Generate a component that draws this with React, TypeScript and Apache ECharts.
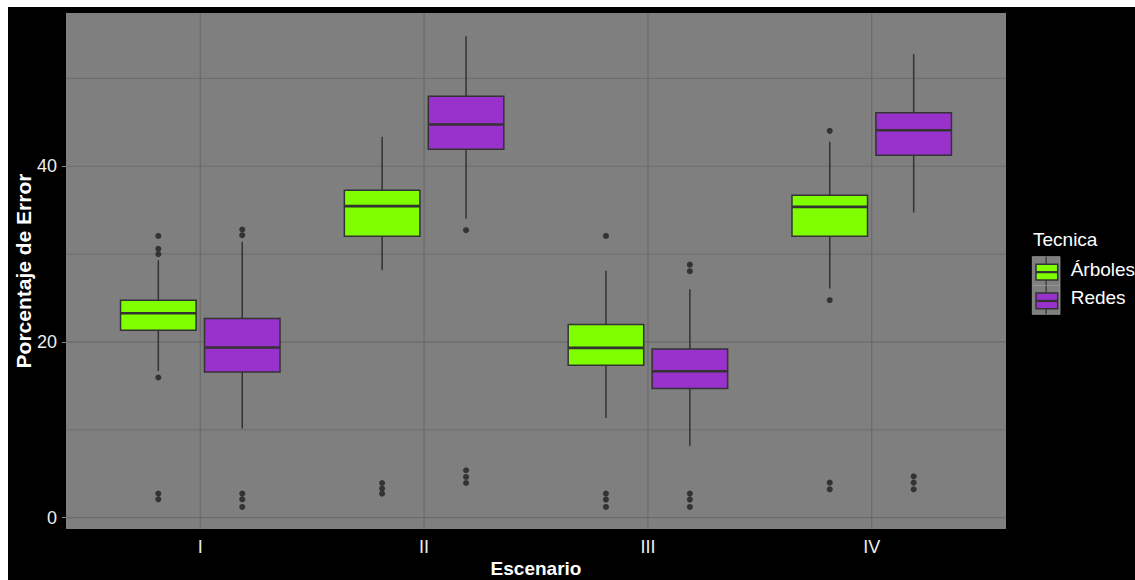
import React, { useEffect, useRef } from "react";
import * as echarts from "echarts";

// ---- data ----
const scenarios = ["I", "II", "III", "IV"];
const techniques = ["Árboles", "Redes"];
// [lower whisker, Q1, median, Q3, upper whisker]
const arbolesStats = [
  [16.7, 21.33, 23.27, 24.75, 29.3],
  [28.17, 32.04, 35.46, 37.28, 43.35],
  [11.34, 17.35, 19.32, 21.98, 28.09],
  [26.08, 32.04, 35.38, 36.7, 42.8],
];
const redesStats = [
  [10.14, 16.58, 19.36, 22.66, 31.4],
  [34.05, 41.95, 44.76, 47.98, 54.8],
  [8.12, 14.69, 16.66, 19.2, 26.0],
  [34.74, 41.26, 44.1, 46.08, 52.77],
];
const arbolesOutliers = [
  [32.07, 30.6, 29.99, 15.95, 2.73, 2.08],
  [3.94, 3.3, 2.73],
  [32.07, 2.73, 2.05, 1.21],
  [44.03, 24.75, 3.98, 3.22],
];
const redesOutliers = [
  [32.8, 32.15, 2.73, 2.08, 1.21],
  [32.72, 5.39, 4.63, 3.94],
  [28.8, 28.05, 2.73, 2.05, 1.21],
  [4.7, 3.98, 3.22],
];
const yTicks = [0, 20, 40];
const yMinor = [10, 30, 50];
const colors = ["#7FFF00", "#9932CC"];

const FONT = "'Liberation Sans', Arial, sans-serif";
const BOX_W = 0.3375;
const DODGE = 0.1875;
const EDGE = "#333333";
const GRID_COLOR = "#6B6B6B";

function boxSeries(name: string, stats: number[][], color: string, offset: number) {
  return {
    type: "custom",
    name,
    z: 5,
    silent: true,
    data: stats.map((s, i) => [i + 1 + offset, ...s]),
    encode: { x: 0, y: [1, 2, 3, 4, 5] },
    renderItem: (params: any, api: any) => {
      const x = api.value(0);
      const lo = api.coord([x, api.value(1)]);
      const q1 = api.coord([x, api.value(2)]);
      const med = api.coord([x, api.value(3)]);
      const q3 = api.coord([x, api.value(4)]);
      const hi = api.coord([x, api.value(5)]);
      const half = api.size([BOX_W, 0])[0] / 2;
      return {
        type: "group",
        children: [
          { type: "line", shape: { x1: lo[0], y1: lo[1], x2: q1[0], y2: q1[1] }, style: { stroke: EDGE, lineWidth: 1.5 } },
          { type: "line", shape: { x1: q3[0], y1: q3[1], x2: hi[0], y2: hi[1] }, style: { stroke: EDGE, lineWidth: 1.5 } },
          {
            type: "rect",
            shape: { x: q3[0] - half, y: q3[1], width: 2 * half, height: q1[1] - q3[1] },
            style: { fill: color, stroke: EDGE, lineWidth: 1.5 },
          },
          {
            type: "line",
            shape: { x1: med[0] - half, y1: med[1], x2: med[0] + half, y2: med[1] },
            style: { stroke: EDGE, lineWidth: 2.6 },
          },
        ],
      };
    },
  };
}

function outlierSeries(name: string, outs: number[][], offset: number) {
  return {
    type: "scatter",
    name: name + " outliers",
    z: 6,
    silent: true,
    symbol: "circle",
    symbolSize: 6,
    itemStyle: { color: EDGE, opacity: 1 },
    data: outs.flatMap((arr, i) => arr.map((v) => [i + 1 + offset, v])),
  };
}

export default function App() {
  const ref = useRef<HTMLDivElement>(null);
  useEffect(() => {
    if (!ref.current) return;
    const chart = echarts.init(ref.current, null, { renderer: "svg" });

    const hGrid = [
      ...yTicks.map((v) => [1, v, 1]),
      ...yMinor.map((v) => [1, v, 0]),
    ];
    const vGrid = scenarios.map((_, i) => [i + 1, 0]);

    // legend (key boxes) drawn with graphic elements
    const keyX = 1024.3, keyY = 249.7, keyW = 27.7, keyH = 28.8;
    const legendEls: any[] = [
      {
        type: "text",
        left: 1025,
        top: 223,
        style: { text: "Tecnica", fill: "#ffffff", font: `19px ${FONT}` },
      },
    ];
    techniques.forEach((t, k) => {
      const y0 = keyY + k * keyH;
      const cx = keyX + keyW / 2;
      const by = y0 + 7.6;
      const bh = 15.7;
      legendEls.push(
        { type: "rect", shape: { x: keyX, y: y0, width: keyW, height: keyH }, style: { fill: "#7F7F7F", stroke: "#9a9a9a", lineWidth: 0.8 } },
        { type: "line", shape: { x1: cx, y1: y0, x2: cx, y2: by }, style: { stroke: EDGE, lineWidth: 1.2 } },
        { type: "line", shape: { x1: cx, y1: by + bh, x2: cx, y2: y0 + keyH }, style: { stroke: EDGE, lineWidth: 1.2 } },
        { type: "rect", shape: { x: keyX + 3.7, y: by, width: 21.7, height: bh }, style: { fill: colors[k], stroke: EDGE, lineWidth: 1.5 } },
        { type: "line", shape: { x1: keyX + 3.7, y1: by + bh / 2, x2: keyX + 25.4, y2: by + bh / 2 }, style: { stroke: EDGE, lineWidth: 2.2 } },
        {
          type: "text",
          left: 1062.7,
          top: y0 + keyH / 2 - 11.5,
          style: { text: t, fill: "#ffffff", font: `19px ${FONT}` },
        }
      );
    });

    chart.setOption({
      animation: false,
      backgroundColor: "#000000",
      textStyle: { fontFamily: FONT },
      grid: {
        left: 58,
        top: 6,
        width: 940,
        height: 516,
        show: true,
        backgroundColor: "#7F7F7F",
        borderWidth: 0,
        containLabel: false,
        outerBoundsMode: "none",
      },
      xAxis: {
        type: "value",
        min: 0.4,
        max: 4.6,
        name: "Escenario",
        nameLocation: "middle",
        nameGap: 30,
        nameMoveOverlap: false,
        nameTextStyle: { color: "#ffffff", fontSize: 19, fontWeight: "bold", fontFamily: FONT },
        axisLine: { show: false },
        axisTick: { show: true, length: 4, customValues: [1, 2, 3, 4], lineStyle: { color: "#8a8a8a", width: 1 } },
        axisLabel: {
          customValues: [1, 2, 3, 4],
          formatter: (v: number) => scenarios[Math.round(v) - 1] ?? "",
          color: "#eeeeee",
          fontSize: 18,
          margin: 9,
          fontFamily: FONT,
        },
        splitLine: { show: false },
      },
      yAxis: {
        type: "value",
        min: -1.3,
        max: 57.45,
        name: "Porcentaje de Error",
        nameLocation: "middle",
        nameGap: 32,
        nameMoveOverlap: false,
        nameRotate: 90,
        nameTextStyle: { color: "#ffffff", fontSize: 21, fontWeight: "bold", fontFamily: FONT },
        axisLine: { show: false },
        axisTick: { show: true, length: 4, customValues: yTicks, lineStyle: { color: "#8a8a8a", width: 1 } },
        axisLabel: {
          customValues: yTicks,
          color: "#eeeeee",
          fontSize: 18,
          margin: 9,
          fontFamily: FONT,
        },
        splitLine: { show: false },
      },
      series: [
        {
          type: "custom",
          name: "hgrid",
          z: 1,
          silent: true,
          data: hGrid,
          encode: { x: 0, y: 1 },
          renderItem: (params: any, api: any) => {
            const cs = params.coordSys;
            const p = api.coord([1, api.value(1)]);
            const major = api.value(2) === 1;
            return {
              type: "line",
              shape: { x1: cs.x, y1: p[1], x2: cs.x + cs.width, y2: p[1] },
              style: { stroke: GRID_COLOR, lineWidth: major ? 1.2 : 0.9 },
            };
          },
        },
        {
          type: "custom",
          name: "vgrid",
          z: 1,
          silent: true,
          data: vGrid,
          encode: { x: 0, y: 1 },
          renderItem: (params: any, api: any) => {
            const cs = params.coordSys;
            const p = api.coord([api.value(0), 0]);
            return {
              type: "line",
              shape: { x1: p[0], y1: cs.y, x2: p[0], y2: cs.y + cs.height },
              style: { stroke: GRID_COLOR, lineWidth: 1.2 },
            };
          },
        },
        boxSeries(techniques[0], arbolesStats, colors[0], -DODGE),
        boxSeries(techniques[1], redesStats, colors[1], DODGE),
        outlierSeries(techniques[0], arbolesOutliers, -DODGE),
        outlierSeries(techniques[1], redesOutliers, DODGE),
      ],
      graphic: legendEls,
    });
    return () => chart.dispose();
  }, []);
  return (
    <div
      ref={ref}
      style={{ position: "absolute", left: 8, top: 7, width: 1127, height: 573 }}
    />
  );
}
